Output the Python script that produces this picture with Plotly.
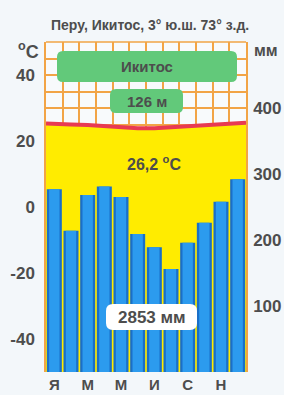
import plotly.graph_objects as go

# ---- data ----
months = list(range(1, 13))
month_labels = ["Я", "М", "М", "И", "С", "Н"]
label_months = [1, 3, 5, 7, 9, 11]
precip_mm = [277, 214, 268, 281, 265, 209, 189, 156, 196, 226, 258, 292]
temp_c = [25.3, 25.0, 24.85, 24.5, 24.2, 23.9, 23.9, 24.2, 24.5, 24.85, 25.2, 25.5]
temp_ticks = [-40, -20, 0, 20, 40]
precip_ticks = [100, 200, 300, 400]
title_text = "Перу, Икитос, 3° ю.ш. 73° з.д."
station = "Икитос"
elevation = "126 м"
mean_temp = "26,2 <sup>o</sup>C"
total_precip = "2853 мм"

T_MIN, T_MAX = -50, 50
P_MIN, P_MAX = 0, 500

ORANGE = "#F2A446"
YELLOW = "#FFEC00"
RED = "#E83A52"
GREEN = "#62C97A"
TXT = "#4D4D4D"
FONT = "Liberation Sans"

W, H = 284, 395
L, R, T, B = 46, 38, 42, 23
PW, PH = W - L - R, H - T - B

x_line = [months[0] - 0.5] + months + [months[-1] + 0.5]
y_line = [temp_c[0]] + temp_c + [temp_c[-1]]

fig = go.Figure()

fig.add_trace(go.Scatter(x=x_line, y=[T_MIN] * len(x_line), mode="lines",
                         line=dict(width=0, color=YELLOW), hoverinfo="skip",
                         showlegend=False, yaxis="y"))
fig.add_trace(go.Scatter(x=x_line, y=y_line, mode="lines", fill="tonexty",
                         fillcolor=YELLOW, line=dict(width=0, color=YELLOW),
                         showlegend=False, yaxis="y"))
fig.add_trace(go.Scatter(x=x_line, y=y_line, mode="lines",
                         line=dict(width=4, color=RED), showlegend=False, yaxis="y"))

fig.add_trace(go.Bar(x=months, y=precip_mm, width=0.9, marker=dict(color="#1A6FC8", line=dict(width=0)),
                     showlegend=False, yaxis="y2"))
fig.add_trace(go.Bar(x=months, y=precip_mm, width=0.62, marker=dict(color="#2C9BEE", line=dict(width=0)),
                     showlegend=False, yaxis="y2"))

axis_font = dict(family=FONT, size=17, color=TXT, weight="bold")

fig.update_layout(
    width=W, height=H,
    margin=dict(l=L, r=R, t=T, b=B),
    paper_bgcolor="#F3F7FA", plot_bgcolor="#F8FAFC",
    barmode="overlay",
    xaxis=dict(range=[0.5, 12.5], tickmode="array", tickvals=label_months, ticktext=month_labels,
               showgrid=False, zeroline=False, showline=False, ticks="", automargin=False,
               ticklabelstandoff=2,
               tickfont=dict(family=FONT, size=15, color=TXT, weight="bold"),
               minor=dict(tickmode="array", tickvals=[m - 0.5 for m in months] + [months[-1] + 0.5],
                          showgrid=True, gridcolor=ORANGE, gridwidth=1.5, ticks="")),
    yaxis=dict(range=[T_MIN, T_MAX], tickmode="array", tickvals=temp_ticks,
               ticktext=[str(t) for t in temp_ticks],
               showgrid=True, gridcolor=ORANGE, gridwidth=1.5, zeroline=False,
               showline=True, linecolor=ORANGE, linewidth=1.5, ticks="", automargin=False,
               ticklabelstandoff=6, tickfont=axis_font,
               minor=dict(dtick=5, tick0=0, showgrid=True, gridcolor=ORANGE, gridwidth=1.5, ticks="")),
    yaxis2=dict(range=[P_MIN, P_MAX], overlaying="y", side="right", tickmode="array",
                tickvals=precip_ticks, showgrid=False, zeroline=False, automargin=False,
                showline=True, linecolor=ORANGE, linewidth=1.5, ticks="",
                ticklabelstandoff=2, tickfont=axis_font),
    showlegend=False,
)

def px(x): return (x - L) / PW
def py(y): return 1 - (y - T) / PH

def rrect(x0, y0, x1, y1, r, color):
    rx, ry = r / PW, r / PH
    X0, X1, Y0, Y1 = px(x0), px(x1), py(y1), py(y0)
    path = (f"M {X0+rx},{Y0} L {X1-rx},{Y0} Q {X1},{Y0} {X1},{Y0+ry} "
            f"L {X1},{Y1-ry} Q {X1},{Y1} {X1-rx},{Y1} L {X0+rx},{Y1} "
            f"Q {X0},{Y1} {X0},{Y1-ry} L {X0},{Y0+ry} Q {X0},{Y0} {X0+rx},{Y0} Z")
    fig.add_shape(type="path", path=path, xref="paper", yref="paper",
                  fillcolor=color, line=dict(width=0), layer="above")
    return ((x0 + x1) / 2, (y0 + y1) / 2)

fig.add_shape(type="line", xref="paper", yref="paper", x0=0, x1=1, y0=1, y1=1,
              line=dict(color=ORANGE, width=1.5))

c1 = rrect(57, 51, 237, 82, 6, GREEN)
c2 = rrect(110, 89, 183, 113, 6, GREEN)
c3 = rrect(106, 304, 197, 330, 7, "#FFFFFF")

def ann(xpix, ypix, text, size):
    fig.add_annotation(x=px(xpix), y=py(ypix), xref="paper", yref="paper", text=text,
                       showarrow=False, xanchor="center", yanchor="middle",
                       font=dict(family=FONT, size=size, color=TXT, weight="bold"))

ann(*c1, station, 15)
ann(*c2, elevation, 15)
ann(*c3, total_precip, 17)
ann(154, 163, mean_temp, 16)
ann(150, 25, title_text, 14)
ann(28, 51, "<sup>o</sup>C", 18)
ann(266, 51, "мм", 16)

fig.write_html("out.html", config={"displayModeBar": False},
               post_script="document.body.style.margin='0';document.body.style.padding='0';"
                           "document.body.style.overflow='hidden';")
